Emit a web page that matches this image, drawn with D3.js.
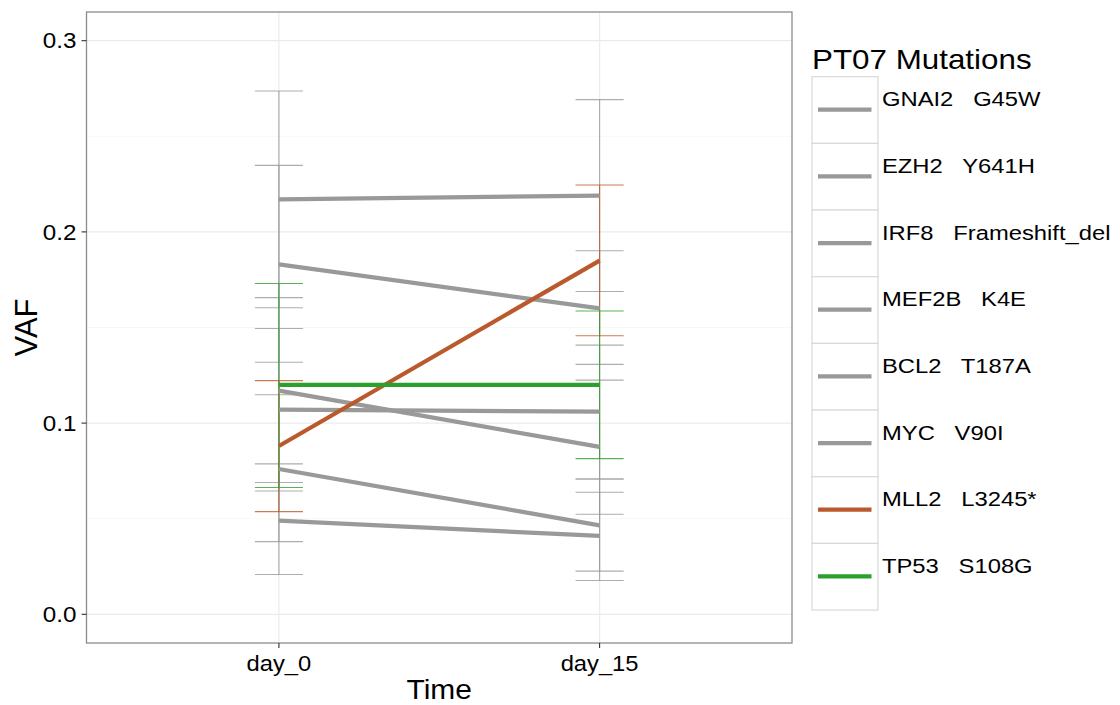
<!DOCTYPE html>
<html>
<head>
<meta charset="utf-8">
<script src="https://cdn.jsdelivr.net/npm/d3@7"></script>
<style>
  html, body { margin: 0; padding: 0; background: #fff; }
  svg text { font-family: "Liberation Sans", Arial, sans-serif; fill: #000; }
</style>
</head>
<body>
<svg id="chart" width="1120" height="705"></svg>
<script>
// Time points and mutations
const timePoints = ["day_0", "day_15"];
const mutations = [
  "GNAI2   G45W",
  "EZH2   Y641H",
  "IRF8   Frameshift_del",
  "MEF2B   K4E",
  "BCL2   T187A",
  "MYC   V90I",
  "MLL2   L3245*",
  "TP53   S108G"
];
const mutationColors = ["#999999", "#999999", "#999999", "#999999", "#999999", "#999999", "#BA5A2C", "#2CA02C"];

// Variant allele frequency per time point (same order as mutations)
const vafDay0  = [0.217, 0.183, 0.117, 0.107, 0.076, 0.049, 0.088, 0.120];
const vafDay15 = [0.219, 0.160, 0.0876, 0.106, 0.0465, 0.041, 0.185, 0.120];

// Confidence interval bounds
const lowDay0   = [0.1603, 0.1318, 0.0689, 0.0645, 0.0380, 0.0208, 0.0537, 0.0663];
const highDay0  = [0.2737, 0.2348, 0.1656, 0.1495, 0.1148, 0.0787, 0.1222, 0.1730];
const lowDay15  = [0.1688, 0.1307, 0.0523, 0.0708, 0.0226, 0.0177, 0.1457, 0.0814];
const highDay15 = [0.2692, 0.1901, 0.1225, 0.1408, 0.0708, 0.0638, 0.2245, 0.1586];

const yMajorTicks = [0, 0.1, 0.2, 0.3];
const yMinorTicks = [0.05, 0.15, 0.25];
const yLimits = [0, 0.3];

const legendTitle = "PT07 Mutations";
const xTitle = "Time";
const yTitle = "VAF";

// Build tidy rows from the arrays
const vafByTime = { day_0: vafDay0, day_15: vafDay15 };
const lowByTime = { day_0: lowDay0, day_15: lowDay15 };
const highByTime = { day_0: highDay0, day_15: highDay15 };
const series = mutations.map((m, i) => ({
  name: m,
  color: mutationColors[i],
  points: timePoints.map(t => ({ time: t, vaf: vafByTime[t][i], lo: lowByTime[t][i], hi: highByTime[t][i] }))
}));

// Layout
const panel = { left: 86.5, right: 792, top: 12, bottom: 643 };
const svg = d3.select("#chart");

const x = d3.scalePoint().domain(timePoints).range([panel.left, panel.right]).padding(0.6);
const pad = (yLimits[1] - yLimits[0]) * 0.05;
const y = d3.scaleLinear().domain([yLimits[0] - pad, yLimits[1] + pad]).range([panel.bottom, panel.top]);

// helper for horizontally widened text
function wideText(g, tx, ty, str, size, sx, anchor) {
  return g.append("text")
    .attr("transform", `translate(${tx},${ty}) scale(${sx},1)`)
    .attr("text-anchor", anchor || "start")
    .style("font-size", size + "px")
    .text(str);
}

// Panel background and grid
svg.append("rect")
  .attr("x", panel.left).attr("y", panel.top)
  .attr("width", panel.right - panel.left).attr("height", panel.bottom - panel.top)
  .attr("fill", "#fff");

const grid = svg.append("g");
grid.selectAll(".minor").data(yMinorTicks).join("line")
  .attr("x1", panel.left).attr("x2", panel.right)
  .attr("y1", d => y(d)).attr("y2", d => y(d))
  .attr("stroke", "#f4f4f4").attr("stroke-width", 0.7);
grid.selectAll(".major").data(yMajorTicks).join("line")
  .attr("x1", panel.left).attr("x2", panel.right)
  .attr("y1", d => y(d)).attr("y2", d => y(d))
  .attr("stroke", "#ebebeb").attr("stroke-width", 1.2);
grid.selectAll(".vmajor").data(timePoints).join("line")
  .attr("x1", d => x(d)).attr("x2", d => x(d))
  .attr("y1", panel.top).attr("y2", panel.bottom)
  .attr("stroke", "#ebebeb").attr("stroke-width", 1.2);

// Error bars
const capHalf = (x.step() * 0.15) / 2;
const eb = svg.append("g").attr("stroke-opacity", 0.8).attr("fill", "none");
series.forEach(s => {
  const g = eb.append("g").attr("stroke", s.color).attr("stroke-width", 1.1);
  s.points.forEach(p => {
    const cx = x(p.time);
    g.append("line").attr("x1", cx).attr("x2", cx).attr("y1", y(p.lo)).attr("y2", y(p.hi));
    g.append("line").attr("x1", cx - capHalf).attr("x2", cx + capHalf).attr("y1", y(p.lo)).attr("y2", y(p.lo));
    g.append("line").attr("x1", cx - capHalf).attr("x2", cx + capHalf).attr("y1", y(p.hi)).attr("y2", y(p.hi));
  });
});

// Trajectory lines
const line = d3.line().x(d => x(d.time)).y(d => y(d.vaf));
svg.append("g").selectAll("path").data(series).join("path")
  .attr("d", d => line(d.points))
  .attr("fill", "none")
  .attr("stroke", d => d.color)
  .attr("stroke-width", 4.2);

// Panel border
svg.append("rect")
  .attr("x", panel.left).attr("y", panel.top)
  .attr("width", panel.right - panel.left).attr("height", panel.bottom - panel.top)
  .attr("fill", "none").attr("stroke", "#8c8c8c").attr("stroke-width", 1.3);

// Y axis ticks and labels
const yAxis = svg.append("g");
yAxis.selectAll("line").data(yMajorTicks).join("line")
  .attr("x1", panel.left - 5).attr("x2", panel.left)
  .attr("y1", d => y(d)).attr("y2", d => y(d))
  .attr("stroke", "#333").attr("stroke-width", 1.1);
yMajorTicks.forEach(v => {
  wideText(yAxis, panel.left - 10, y(v) + 7.8, d3.format(".1f")(v), 22, 1.1, "end");
});

// X axis ticks and labels
const xAxis = svg.append("g");
xAxis.selectAll("line").data(timePoints).join("line")
  .attr("x1", d => x(d)).attr("x2", d => x(d))
  .attr("y1", panel.bottom).attr("y2", panel.bottom + 5)
  .attr("stroke", "#333").attr("stroke-width", 1.1);
timePoints.forEach(t => {
  wideText(xAxis, x(t), 671, t, 22, 1.08, "middle");
});

// Axis titles
wideText(svg, (panel.left + panel.right) / 2, 699, xTitle, 28, 1.07, "middle");
svg.append("text")
  .attr("transform", `translate(36.5,${(panel.top + panel.bottom) / 2}) rotate(-90)`)
  .attr("text-anchor", "middle")
  .style("font-size", "31px")
  .text(yTitle);

// Legend
const legend = svg.append("g");
const lg = { x: 812, top: 76.7, keyW: 66, rowH: 66.67 };
wideText(legend, lg.x, 68.5, legendTitle, 28, 1.12, "start");
series.forEach((s, i) => {
  const top = lg.top + i * lg.rowH;
  legend.append("rect")
    .attr("x", lg.x).attr("y", top)
    .attr("width", lg.keyW).attr("height", lg.rowH)
    .attr("fill", "#fff").attr("stroke", "#d9d9d9").attr("stroke-width", 1.2);
  legend.append("line")
    .attr("x1", lg.x + 6).attr("x2", lg.x + 59.5)
    .attr("y1", top + 33).attr("y2", top + 33)
    .attr("stroke", s.color).attr("stroke-width", 4.2);
  wideText(legend, lg.x + 70, top + 29.5, s.name, 20.5, 1.16, "start").style("white-space", "pre");
});
</script>
</body>
</html>
